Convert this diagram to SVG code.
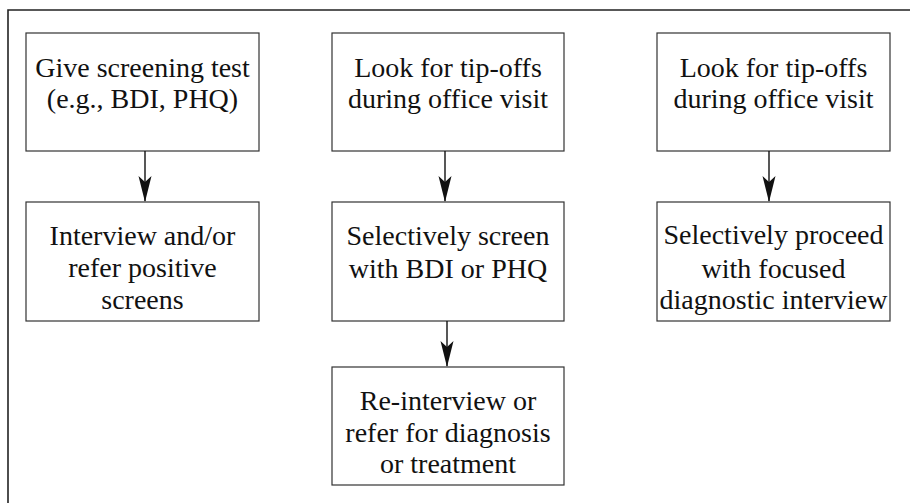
<svg xmlns="http://www.w3.org/2000/svg" width="910" height="503" viewBox="0 0 910 503">
<defs>
<style>
.box{fill:#fff;stroke:#333;stroke-width:1.2}
.t{font-family:"Liberation Serif","Times New Roman",serif;font-size:28px;fill:#111;text-anchor:middle}
.c{stroke:#111;stroke-width:1.4;fill:none}
.frame{stroke:#222;stroke-width:1.6;fill:none}
</style>
<marker id="ah" viewBox="0 0 26 14" refX="25" refY="7" markerWidth="26" markerHeight="14" markerUnits="userSpaceOnUse" orient="auto">
<path d="M26,7 L0,0.5 L6,7 L0,13.5 Z" fill="#111"/>
</marker>
</defs>
<rect width="910" height="503" fill="#fff"/>
<path class="frame" d="M8,503 V10 H910"/>
<g id="n1">
<rect class="box" x="26" y="33" width="233" height="118"/>
<text class="t" x="142.5" y="77">Give screening test</text>
<text class="t" x="142.5" y="108">(e.g., BDI, PHQ)</text>
</g>
<g id="n2">
<rect class="box" x="26" y="202" width="233" height="119"/>
<text class="t" x="142.5" y="245">Interview and/or</text>
<text class="t" x="142.5" y="277">refer positive</text>
<text class="t" x="142.5" y="309">screens</text>
</g>
<g id="n3">
<rect class="box" x="332" y="33" width="232" height="118"/>
<text class="t" x="448" y="77">Look for tip-offs</text>
<text class="t" x="448" y="108">during office visit</text>
</g>
<g id="n4">
<rect class="box" x="332" y="202" width="232" height="119"/>
<text class="t" x="448" y="245">Selectively screen</text>
<text class="t" x="448" y="278">with BDI or PHQ</text>
</g>
<g id="n5">
<rect class="box" x="332" y="367" width="232" height="118"/>
<text class="t" x="448" y="410">Re-interview or</text>
<text class="t" x="448" y="442">refer for diagnosis</text>
<text class="t" x="448" y="473">or treatment</text>
</g>
<g id="n6">
<rect class="box" x="657" y="33" width="233" height="118"/>
<text class="t" x="773.5" y="77">Look for tip-offs</text>
<text class="t" x="773.5" y="108">during office visit</text>
</g>
<g id="n7">
<rect class="box" x="657" y="202" width="233" height="119"/>
<text class="t" x="773.5" y="244">Selectively proceed</text>
<text class="t" x="773.5" y="278">with focused</text>
<text class="t" x="773.5" y="309">diagnostic interview</text>
</g>
<g id="connectors">
<line class="c" x1="145" y1="151" x2="145" y2="201" marker-end="url(#ah)"/>
<line class="c" x1="445" y1="151" x2="445" y2="201" marker-end="url(#ah)"/>
<line class="c" x1="447" y1="321" x2="447" y2="366" marker-end="url(#ah)"/>
<line class="c" x1="769" y1="151" x2="769" y2="201" marker-end="url(#ah)"/>
</g>
</svg>
